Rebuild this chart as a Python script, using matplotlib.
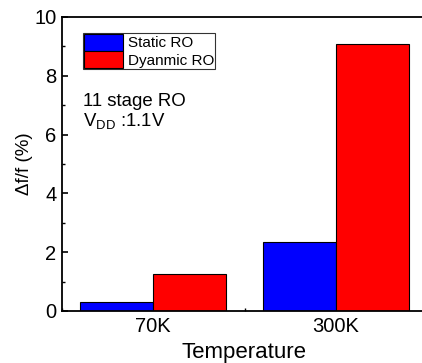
import matplotlib
matplotlib.use("Agg")
import matplotlib.pyplot as plt
import numpy as np
from matplotlib.ticker import MultipleLocator

plt.rcParams['font.family'] = ['Liberation Sans', 'DejaVu Sans']
plt.rcParams['mathtext.fontset'] = 'custom'
plt.rcParams['mathtext.rm'] = 'Liberation Sans'
plt.rcParams['mathtext.it'] = 'Liberation Sans:italic'

# Data
temperatures = ['70K', '300K']
static_ro = [0.31, 2.33]
dynamic_ro = [1.27, 9.09]
series_labels = ['Static RO', 'Dyanmic RO']

fig = plt.figure(figsize=(4.22, 3.63), dpi=100)
ax = fig.add_axes([62 / 422, 1 - 311 / 363, 365 / 422, 294 / 363])

x = np.arange(len(temperatures))
w = 0.4
ax.bar(x - w / 2, static_ro, width=w, color='#0000FF', edgecolor='black',
       linewidth=0.8, label=series_labels[0], zorder=2)
ax.bar(x + w / 2, dynamic_ro, width=w, color='#FF0000', edgecolor='black',
       linewidth=0.8, label=series_labels[1], zorder=2)

ax.set_xlim(-0.5, 1.5)
ax.set_ylim(0, 10)
ax.set_xticks(x)
ax.set_xticklabels(temperatures)
ax.xaxis.set_minor_locator(MultipleLocator(0.5))
ax.yaxis.set_major_locator(MultipleLocator(2))
ax.yaxis.set_minor_locator(MultipleLocator(1))

for s in ax.spines.values():
    s.set_linewidth(1.3)
    s.set_zorder(3)

ax.tick_params(which='major', direction='in', length=4, width=1.2,
               labelsize=14.5, pad=4)
ax.tick_params(which='minor', direction='in', length=2, width=1.0)
ax.tick_params(axis='x', which='major', pad=4)

ax.set_xlabel('Temperature', fontsize=16, labelpad=4.5)
ax.set_ylabel('Δf/f (%)', fontsize=13.5, labelpad=1)

leg = ax.legend(loc='upper left', bbox_to_anchor=(21 / 365, 278 / 294),
                borderaxespad=0, fontsize=11, frameon=True, fancybox=False,
                edgecolor='black', borderpad=0.05, labelspacing=0.0,
                handlelength=2.6, handleheight=1.35, handletextpad=0.3)
leg.get_frame().set_linewidth(0.8)
for h in leg.legend_handles:
    h.set_edgecolor('black')
    h.set_linewidth(0.8)

ax.text(21 / 365, (311 - 106) / 294, '11 stage RO', transform=ax.transAxes,
        fontsize=13.4, va='baseline', ha='left')
ax.text(21 / 365, (311 - 126) / 294, r'V$_{\mathrm{DD}}$ :1.1V',
        transform=ax.transAxes, fontsize=13.4, va='baseline', ha='left')

fig.savefig('out.png', dpi=100)
